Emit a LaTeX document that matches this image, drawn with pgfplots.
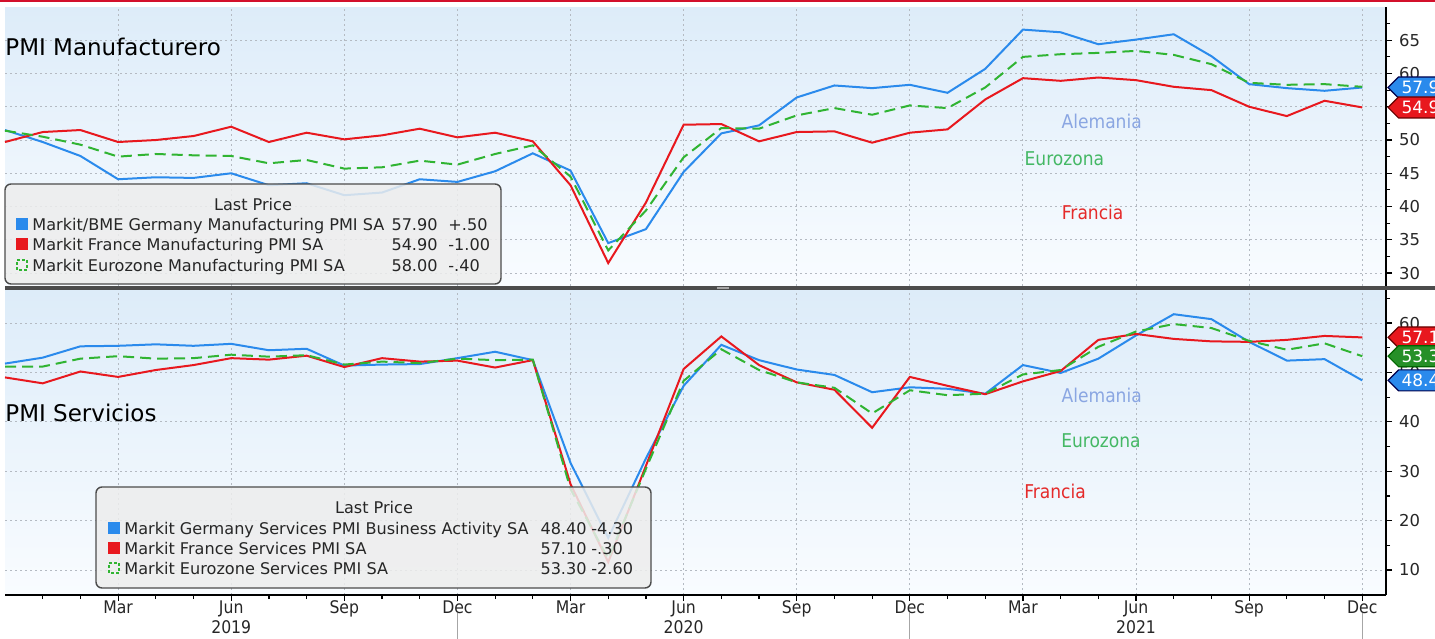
\documentclass[border=0pt]{standalone}
\usepackage{pgfplots}
\pgfplotsset{compat=1.18}
\usepackage{pgfplotstable}
\usepackage{fontspec}
\setmainfont{DejaVu Sans}
\newfontfamily\condfont{DejaVu Sans Condensed}
\usetikzlibrary{shapes.symbols}

\definecolor{gblue}{HTML}{2A8AEC}
\definecolor{fred}{HTML}{E8181E}
\definecolor{ezgreen}{HTML}{30B432}
\definecolor{lblAle}{HTML}{8AA6E2}
\definecolor{lblEuro}{HTML}{45B865}
\definecolor{lblFra}{HTML}{E52A2A}
\definecolor{bgtop}{HTML}{DDECF9}
\definecolor{bgbot}{HTML}{F9FCFF}
\definecolor{gridc}{HTML}{B4BAC2}
\definecolor{legfill}{HTML}{EDEDED}
\definecolor{topred}{HTML}{D3102B}

% month index: 0 = Dec 2018 ... 36 = Dec 2021
\pgfplotstableread{
idx de fr ez
0 51.5 49.7 51.4
1 49.7 51.2 50.5
2 47.6 51.5 49.3
3 44.1 49.7 47.5
4 44.4 50.0 47.9
5 44.3 50.6 47.7
6 45.0 52.0 47.6
7 43.2 49.7 46.5
8 43.5 51.1 47.0
9 41.7 50.1 45.7
10 42.1 50.7 45.9
11 44.1 51.7 46.9
12 43.7 50.4 46.3
13 45.3 51.1 47.9
14 48.0 49.8 49.2
15 45.4 43.2 44.5
16 34.5 31.5 33.4
17 36.6 40.6 39.4
18 45.2 52.3 47.4
19 51.0 52.4 51.8
20 52.2 49.8 51.7
21 56.4 51.2 53.7
22 58.2 51.3 54.8
23 57.8 49.6 53.8
24 58.3 51.1 55.2
25 57.1 51.6 54.8
26 60.7 56.1 57.9
27 66.6 59.3 62.5
28 66.2 58.9 62.9
29 64.4 59.4 63.1
30 65.1 59.0 63.4
31 65.9 58.0 62.8
32 62.6 57.5 61.4
33 58.4 55.0 58.6
34 57.8 53.6 58.3
35 57.4 55.9 58.4
36 57.9 54.9 58.0
}\mfg

\pgfplotstableread{
idx de fr ez
0 51.8 49.0 51.2
1 53.0 47.8 51.2
2 55.3 50.2 52.8
3 55.4 49.1 53.3
4 55.7 50.5 52.8
5 55.4 51.5 52.9
6 55.8 52.9 53.6
7 54.5 52.6 53.2
8 54.8 53.4 53.5
9 51.4 51.1 51.6
10 51.6 52.9 52.2
11 51.7 52.2 51.9
12 52.9 52.4 52.8
13 54.2 51.0 52.5
14 52.5 52.5 52.6
15 31.7 27.4 26.4
16 16.5 11.6 12.3
17 32.6 31.1 30.5
18 47.3 50.7 48.3
19 55.6 57.3 54.7
20 52.5 51.5 50.5
21 50.6 48.0 48.0
22 49.5 46.5 46.9
23 46.0 38.8 41.7
24 47.0 49.1 46.4
25 46.7 47.3 45.4
26 45.7 45.6 45.7
27 51.5 48.2 49.6
28 49.9 50.3 50.5
29 52.8 56.6 55.2
30 57.5 57.8 58.3
31 61.8 56.8 59.8
32 60.8 56.3 59.0
33 56.2 56.2 56.4
34 52.4 56.6 54.6
35 52.7 57.4 55.9
36 48.4 57.1 53.3
}\srv

\pgfplotsset{
  pmi/.style={
    scale only axis, width=690.5pt,
    xmin=0, xmax=36.63,
    axis line style={draw=none},
    tick align=outside,
    ytick pos=right, yticklabel pos=right,
    xtick pos=left,
    xtick={3,6,...,36},
    minor xtick={1,...,36},
    grid=major,
    major grid style={dash pattern=on 1pt off 1.5pt, gridc, line width=0.5pt},
    major tick length=3pt, minor tick length=2pt,
    tick style={black, line width=0.6pt},
    yticklabel style={font=\fontsize{8.2}{9}\selectfont, text=black!85},
    /pgf/number format/assume math mode=true,
    axis background/.style={top color=bgtop, bottom color=bgbot},
    clip=false,
  },
}
\tikzset{
  badge/.style={signal, signal to=west, anchor=west, inner xsep=1.5pt, inner ysep=0.5pt,
    minimum height=10.5pt, text=white, font=\fontsize{8.5}{9}\selectfont, line width=0.6pt, xshift=0.6pt},
  annot/.style={font=\condfont\fontsize{9.5}{10}\selectfont},
  legtxt/.style={inner sep=0pt, font=\fontsize{8.05}{9.6}\selectfont, text=black!85, text height=1.5ex, text depth=0.35ex},
}

\begin{document}
\begin{tikzpicture}
\path[use as bounding box] (0,0) rectangle (717.5pt,319pt);
\begin{scope}
\clip (0,0) rectangle (717.5pt,319pt);

% top red stripe
\fill[topred] (0pt,318pt) rectangle (717.5pt,319pt);

% ---------- Manufacturing ----------
\begin{axis}[pmi, at={(2.5pt,176pt)}, anchor=south west, height=139.5pt,
  ymin=28.05, ymax=70, ytick={30,35,...,65}, minor ytick={32.5,37.5,...,67.5},
  xmajorticks=false, xminorticks=false]
\addplot[gblue, line width=1pt] table[x=idx,y=de]{\mfg};
\addplot[fred, line width=1pt] table[x=idx,y=fr]{\mfg};
\addplot[ezgreen, line width=1pt, dash pattern=on 5.5pt off 3pt] table[x=idx,y=ez]{\mfg};
\draw[black, line width=0.8pt] (rel axis cs:1,0) -- (rel axis cs:1,1);
\node[annot, text=lblAle] at (axis cs:29.09,52.86) {Alemania};
\node[annot, text=lblEuro] at (axis cs:28.1,47.14) {Eurozona};
\node[annot, text=lblFra] at (axis cs:28.85,39.17) {Francia};
\node[badge, fill=gblue, draw=black!70!blue] at (axis cs:36.63,57.9) {57.90};
\node[badge, fill=fred, draw=black!60!red] at (axis cs:36.63,54.9) {54.90};
\end{axis}

% ---------- Services ----------
\begin{axis}[pmi, at={(2.5pt,21.5pt)}, anchor=south west, height=152pt,
  ymin=4.94, ymax=66.5, ytick={10,20,...,60}, minor ytick={15,25,...,65},
  xticklabels={Mar,Jun,Sep,Dec,Mar,Jun,Sep,Dec,Mar,Jun,Sep,Dec},
  xticklabel style={font=\condfont\fontsize{8.7}{9}\selectfont, text=black!85, yshift=3.5pt}]
\addplot[gblue, line width=1pt] table[x=idx,y=de]{\srv};
\addplot[fred, line width=1pt] table[x=idx,y=fr]{\srv};
\addplot[ezgreen, line width=1pt, dash pattern=on 5.5pt off 3pt] table[x=idx,y=ez]{\srv};
\draw[black, line width=0.8pt] (rel axis cs:1,0) -- (rel axis cs:1,1.05);
\draw[black, line width=0.8pt] (rel axis cs:0,0) -- (rel axis cs:1,0);
\node[annot, text=lblAle] at (axis cs:29.09,45.26) {Alemania};
\node[annot, text=lblEuro] at (axis cs:29.07,36.15) {Eurozona};
\node[annot, text=lblFra] at (axis cs:27.85,25.83) {Francia};
\node[badge, fill=fred, draw=black!60!red] at (axis cs:36.63,57.1) {57.10};
\node[badge, fill=ezgreen!80!black, draw=black!60!green] at (axis cs:36.63,53.3) {53.30};
\node[badge, fill=gblue, draw=black!70!blue] at (axis cs:36.63,48.4) {48.40};
\node[font=\condfont\fontsize{8.7}{9}\selectfont, text=black!85] at ([yshift=-16pt]axis cs:6,4.94) {2019};
\node[font=\condfont\fontsize{8.7}{9}\selectfont, text=black!85] at ([yshift=-16pt]axis cs:18,4.94) {2020};
\node[font=\condfont\fontsize{8.7}{9}\selectfont, text=black!85] at ([yshift=-16pt]axis cs:30,4.94) {2021};
\draw[gray!70] ([yshift=-9pt]axis cs:12,4.94) -- ([yshift=-22pt]axis cs:12,4.94);
\draw[gray!70] ([yshift=-9pt]axis cs:24,4.94) -- ([yshift=-22pt]axis cs:24,4.94);
\draw[gray!70] ([yshift=-9pt]axis cs:36,4.94) -- ([yshift=-22pt]axis cs:36,4.94);
\end{axis}

% separator bar
\fill[black!70] (2.5pt,174pt) rectangle (717.5pt,176pt);
\fill[black!35] (358.5pt,174.3pt) rectangle (364.5pt,175.7pt);

% titles
\node[anchor=west, inner sep=0pt, font=\fontsize{11.5}{12}\selectfont] at (2.5pt,295.5pt) {PMI Manufacturero};
\node[anchor=west, inner sep=0pt, font=\fontsize{11.5}{12}\selectfont] at (2.5pt,112.5pt) {PMI Servicios};

% ---------- top legend ----------
\filldraw[rounded corners=3pt, fill=legfill, fill opacity=0.85, draw=black!70, line width=0.7pt] (2.5pt,177pt) rectangle (250.5pt,227pt);
\node[legtxt] at (126.5pt,217pt) {Last Price};
\fill[gblue] (8pt,204pt) rectangle (14pt,210pt);
\fill[fred] (8pt,194pt) rectangle (14pt,200pt);
\draw[ezgreen, dash pattern=on 1.5pt off 1pt, line width=0.6pt] (8.5pt,184pt) rectangle (13.5pt,189pt);
\node[legtxt, anchor=west] at (16pt,207pt) {Markit/BME Germany Manufacturing PMI SA};
\node[legtxt, anchor=west] at (16pt,197pt) {Markit France Manufacturing PMI SA};
\node[legtxt, anchor=west] at (16pt,186.5pt) {Markit Eurozone Manufacturing PMI SA};
\node[legtxt, anchor=east] at (219pt,207pt) {57.90};
\node[legtxt, anchor=east] at (219pt,197pt) {54.90};
\node[legtxt, anchor=east] at (219pt,186.5pt) {58.00};
\node[legtxt, anchor=west] at (224pt,207pt) {+.50};
\node[legtxt, anchor=west] at (224pt,197pt) {-1.00};
\node[legtxt, anchor=west] at (224pt,186.5pt) {-.40};

% ---------- bottom legend ----------
\filldraw[rounded corners=3pt, fill=legfill, fill opacity=0.85, draw=black!70, line width=0.7pt] (48pt,25pt) rectangle (325.5pt,75.5pt);
\node[legtxt] at (187pt,65.5pt) {Last Price};
\fill[gblue] (54pt,52pt) rectangle (60pt,58pt);
\fill[fred] (54pt,42pt) rectangle (60pt,48pt);
\draw[ezgreen, dash pattern=on 1.5pt off 1pt, line width=0.6pt] (54.5pt,32.5pt) rectangle (59.5pt,37.5pt);
\node[legtxt, anchor=west] at (62pt,55pt) {Markit Germany Services PMI Business Activity SA};
\node[legtxt, anchor=west] at (62pt,45pt) {Markit France Services PMI SA};
\node[legtxt, anchor=west] at (62pt,35pt) {Markit Eurozone Services PMI SA};
\node[legtxt, anchor=east] at (293.5pt,55pt) {48.40};
\node[legtxt, anchor=east] at (293.5pt,45pt) {57.10};
\node[legtxt, anchor=east] at (293.5pt,35pt) {53.30};
\node[legtxt, anchor=west] at (295.5pt,55pt) {-4.30};
\node[legtxt, anchor=west] at (295.5pt,45pt) {-.30};
\node[legtxt, anchor=west] at (295.5pt,35pt) {-2.60};
\end{scope}
\end{tikzpicture}
\end{document}
